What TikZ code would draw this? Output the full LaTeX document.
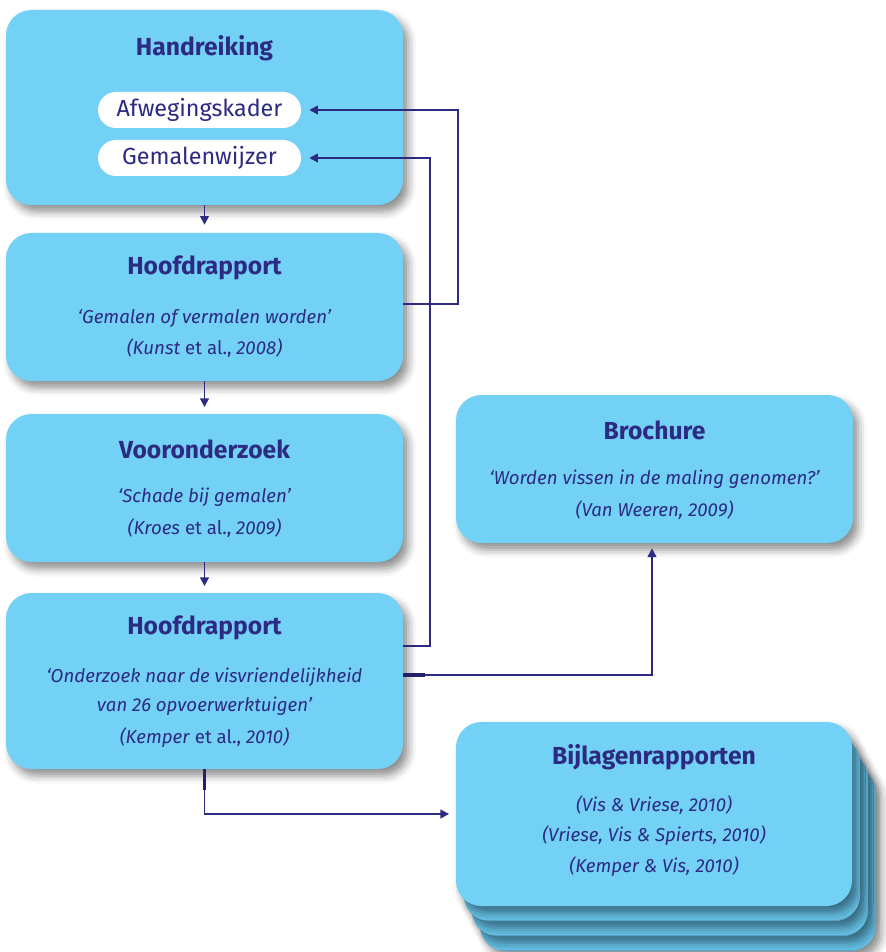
\documentclass[tikz,border=0pt]{standalone}
\usepackage{fontspec}
\setmainfont{Fira Sans}
\usetikzlibrary{shadows.blur,arrows.meta,fit}
\definecolor{boxblue}{HTML}{74D1F6}
\definecolor{backblue}{HTML}{66C3E9}
\definecolor{navy}{HTML}{2C2A82}
\tikzset{
  box/.style={fill=boxblue, rounded corners=19pt, inner sep=0pt,
    blur shadow={shadow xshift=4pt, shadow yshift=-5pt, shadow blur radius=6pt, shadow opacity=45}},
  backbox/.style={box, fill=backblue},
  pill/.style={fill=white, rounded corners=13.5pt, inner sep=0pt},
  ttl/.style={text=navy, font=\fontsize{18.5}{22}\selectfont\bfseries},
  sub/.style={text=navy, font=\fontsize{14}{17}\selectfont\itshape},
  pilltxt/.style={text=navy, font=\fontsize{17.5}{21}\selectfont},
  conn/.style={draw=navy, line width=1.35pt},
  arr/.style={conn, -{Triangle[length=6.5pt,width=6.5pt]}},
  stub/.style={draw=navy!80!black, line width=2.6pt}
}
\begin{document}
\begin{tikzpicture}[x=0.75pt,y=-0.75pt]
\useasboundingbox (0,0) rectangle (885,952);
% boxes
\node[box, fit={(6,10) (403,205)}] (hand) {};
\node[pill, fit={(98,92) (301,128)}] (afw) {};
\node[pill, fit={(98,140) (301,176)}] (gem) {};
\node[box, fit={(6,233) (403,381)}] (hoof1) {};
\node[box, fit={(6,414) (403,562)}] (voor) {};
\node[box, fit={(6,593) (403,769)}] (hoof2) {};
\node[box, fit={(456,395) (853,543)}] (broch) {};
\node[backbox, fit={(480,767) (876,951)}] (bij3) {};
\node[backbox, fit={(472,752) (868,936)}] (bij2) {};
\node[backbox, fit={(464,737) (860,921)}] (bij1) {};
\node[box, fit={(456,722) (852,906)}] (bij) {};
% texts
\node[ttl] (t1) at (204.5,48) {Handreiking};
\node[pilltxt] (t1a) at (afw.center) {Afwegingskader};
\node[pilltxt] (t1b) at (gem.center) {Gemalenwijzer};
\node[ttl] (t2) at (204.5,268) {Hoofdrapport};
\node[sub] (t2a) at (204.5,318) {‘Gemalen of vermalen worden’};
\node[sub] (t2b) at (204.5,348) {(Kunst\/\upshape{} et al.,\itshape{} 2008)};
\node[ttl] (t3) at (204.5,449) {Vooronderzoek};
\node[sub] (t3a) at (204.5,497) {‘Schade bij gemalen’};
\node[sub] (t3b) at (204.5,528) {(Kroes\/\upshape{} et al.,\itshape{} 2009)};
\node[ttl] (t4) at (204.5,628) {Hoofdrapport};
\node[sub] (t4a) at (204.5,677) {‘Onderzoek naar de visvriendelijkheid};
\node[sub] (t4b) at (204.5,706) {van 26 opvoerwerktuigen’};
\node[sub] (t4c) at (204.5,738) {(Kemper\/\upshape{} et al.,\itshape{} 2010)};
\node[ttl] (t5) at (654.5,430) {Brochure};
\node[sub] (t5a) at (654.5,479) {‘Worden vissen in de maling genomen?’};
\node[sub] (t5b) at (654.5,510) {(Van Weeren, 2009)};
\node[ttl] (t6) at (654,757) {Bijlagenrapporten};
\node[sub] (t6a) at (654,805) {(Vis \& Vriese, 2010)};
\node[sub] (t6b) at (654,836) {(Vriese, Vis \& Spierts, 2010)};
\node[sub] (t6c) at (654,867) {(Kemper \& Vis, 2010)};
% connectors
\draw[arr, shorten >=6pt] (hand.south) -- (hoof1.north);
\draw[arr, shorten >=5pt] (hoof1.south) -- (voor.north);
\draw[arr, shorten >=5pt] (voor.south) -- (hoof2.north);
\coordinate (h1r) at (hoof1.east |- 0,304);
\draw[arr, shorten >=6pt] (h1r) -- ++(55,0) |- (afw.east);
\coordinate (h2a) at (hoof2.east |- 0,646);
\draw[arr, shorten >=6pt] (h2a) -- ++(27,0) |- (gem.east);
\coordinate (h2b) at (hoof2.east |- 0,675);
\coordinate (h2bx) at (425,675);
\coordinate (brx) at (652,543);
\draw[arr, shorten >=4pt] (h2b) -| (brx);
\draw[stub] (h2b) -- (h2bx);
\coordinate (h2s) at (204.5,790);
\draw[arr, shorten >=5pt] (hoof2.south) |- (bij.west);
\draw[stub] (hoof2.south) -- (h2s);
\end{tikzpicture}
\end{document}
